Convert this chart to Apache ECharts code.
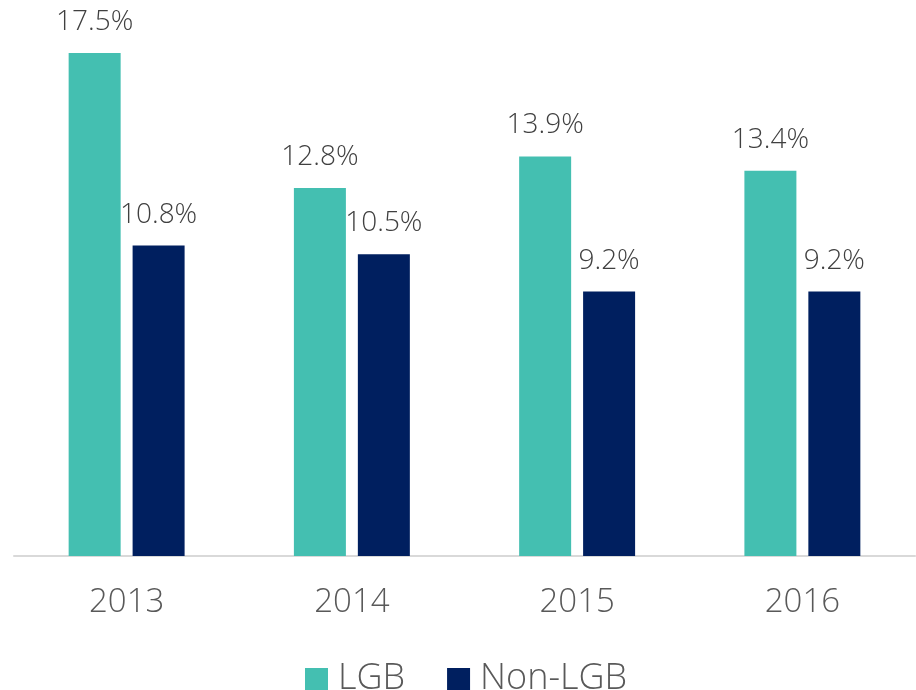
<!DOCTYPE html>
<html><head><meta charset="utf-8">
<script src="https://cdn.jsdelivr.net/npm/echarts@6/dist/echarts.min.js"></script>
<style>html,body{margin:0;padding:0;background:#fff}#c{width:916px;height:690px}</style>
</head><body><div id="c"></div>
<script>
const categories = ['2013', '2014', '2015', '2016'];
const lgb = [17.5, 12.8, 13.9, 13.4];
const nonLgb = [10.8, 10.5, 9.2, 9.2];
const seriesNames = ['LGB', 'Non-LGB'];
const FONT = 'Open Sans';
const chart = echarts.init(document.getElementById('c'));
const labelStyle = {
  show: true, position: 'top', distance: 17,
  formatter: p => p.value.toFixed(1) + '%',
  fontFamily: FONT, fontSize: 28, fontWeight: 300, color: '#404040'
};
chart.setOption({
  animation: false,
  grid: { left: 14, right: 1, top: 53, bottom: 134, containLabel: false },
  xAxis: {
    type: 'category', data: categories,
    axisLine: { lineStyle: { color: '#d9d9d9', width: 2 } },
    axisTick: { show: false },
    axisLabel: { fontFamily: FONT, fontSize: 33, fontWeight: 300, color: '#595959', margin: 30 }
  },
  yAxis: { type: 'value', min: 0, max: 17.5, show: false, splitLine: { show: false } },
  legend: {
    left: 305, top: 661, padding: 0, itemWidth: 23, itemHeight: 22, itemGap: 42,
    icon: 'rect',
    textStyle: { fontFamily: FONT, fontSize: 36, fontWeight: 300, color: '#595959', padding: [0, 0, 0, 5], lineHeight: 36 },
    data: seriesNames
  },
  series: [
    { name: seriesNames[0], type: 'bar', data: lgb, barWidth: 52, barGap: '23%',
      itemStyle: { color: '#44bfb1' }, label: labelStyle },
    { name: seriesNames[1], type: 'bar', data: nonLgb, barWidth: 52,
      itemStyle: { color: '#001f5f' }, label: labelStyle }
  ]
});
</script></body></html>
